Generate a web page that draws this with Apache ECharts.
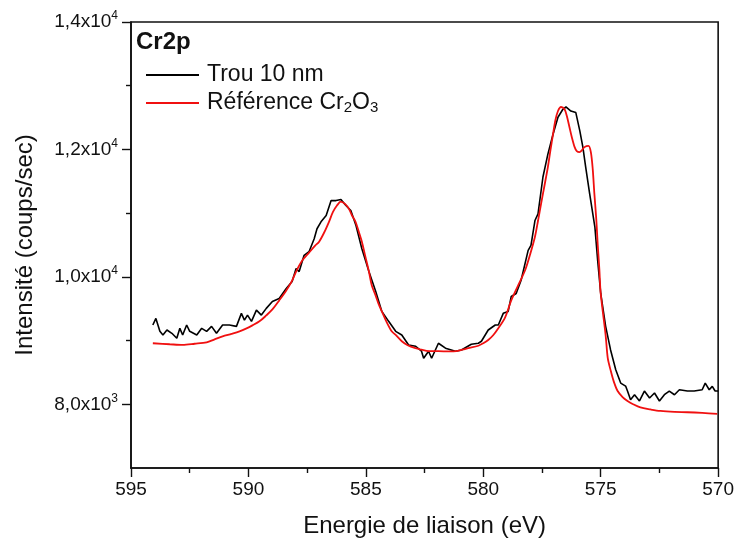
<!DOCTYPE html>
<html>
<head>
<meta charset="utf-8">
<script src="https://cdn.jsdelivr.net/npm/echarts@6/dist/echarts.min.js"></script>
<style>
  html, body { margin: 0; padding: 0; background: #fff; }
  #chart { width: 737px; height: 543px; }
</style>
</head>
<body>
<div id="chart"></div>
<script>
// Cr2p XPS spectra: 10 nm hole vs Cr2O3 reference
const blackEnergy = [
  594.07, 593.94, 593.77, 593.64, 593.47, 593.26, 593.05, 592.92, 592.80, 592.63,
  592.50, 592.20, 591.99, 591.78, 591.57, 591.36, 591.10, 590.81, 590.51, 590.30,
  590.17, 590.04, 589.87, 589.66, 589.45, 589.24, 588.98, 588.69, 588.39, 588.14,
  587.97, 587.84, 587.63, 587.42, 587.20, 587.08, 586.91, 586.69, 586.48, 586.27,
  586.06, 585.85, 585.64, 585.42, 585.17, 584.87, 584.58, 584.32, 584.03, 583.73,
  583.47, 583.18, 582.88, 582.63, 582.54, 582.33, 582.20, 581.91, 581.61, 581.36,
  581.19, 580.93, 580.51, 580.21, 580.08, 579.79, 579.49, 579.36, 579.15, 578.94,
  578.81, 578.60, 578.39, 578.09, 577.97, 577.80, 577.67, 577.46, 577.25, 577.03,
  576.82, 576.61, 576.48, 576.27, 576.06, 575.89, 575.76, 575.64, 575.47, 575.25,
  575.13, 575.00, 574.79, 574.58, 574.36, 574.15, 573.94, 573.86, 573.73, 573.56,
  573.35, 573.14, 572.92, 572.71, 572.50, 572.29, 572.08, 571.86, 571.65, 571.31,
  571.02, 570.68, 570.55, 570.38, 570.25, 570.13, 570.00
];
const blackCounts = [
  9244, 9348, 9145, 9088, 9166, 9114, 9036, 9192, 9088, 9244,
  9145, 9088, 9192, 9145, 9223, 9114, 9244, 9244, 9223, 9427,
  9322, 9400, 9302, 9478, 9400, 9505, 9614, 9661, 9817, 9927,
  10130, 10083, 10338, 10395, 10598, 10755, 10864, 10963, 11197, 11197,
  11213, 11119, 11041, 10806, 10442, 10083, 9770, 9458, 9302, 9145,
  9088, 8931, 8911, 8833, 8723, 8833, 8723, 8958, 8880, 8853,
  8833, 8853, 8942, 8958, 8989, 9166, 9244, 9244, 9427, 9458,
  9692, 9739, 9947, 10416, 10494, 10884, 10989, 11567, 11927, 12239,
  12505, 12630, 12666, 12603, 12578, 12291, 12036, 11723, 11302, 10786,
  10259, 9739, 9223, 8853, 8541, 8333, 8286, 8208, 8072, 8150,
  8052, 8208, 8098, 8177, 8052, 8150, 8208, 8150, 8228, 8208,
  8208, 8228, 8333, 8228, 8281, 8208, 8208
];

const refEnergy = [
  594.07, 593.35, 592.80, 592.29, 591.78, 591.44, 591.10, 590.72, 590.38, 590.08,
  589.83, 589.53, 589.24, 588.98, 588.69, 588.39, 588.14, 587.97, 587.71, 587.42,
  587.16, 586.99, 586.78, 586.57, 586.40, 586.23, 586.07, 585.89, 585.72, 585.59,
  585.44, 585.30, 585.17, 585.02, 584.87, 584.75, 584.59, 584.45, 584.32, 584.11,
  583.90, 583.73, 583.47, 583.22, 582.89, 582.63, 582.33, 581.91, 581.48, 581.14,
  580.93, 580.64, 580.21, 580.00, 579.79, 579.58, 579.36, 579.07, 578.81, 578.52,
  578.22, 578.01, 577.80, 577.67, 577.54, 577.39, 577.25, 577.14, 577.03, 576.93,
  576.82, 576.69, 576.54, 576.44, 576.33, 576.23, 576.11, 576.02, 575.90, 575.81,
  575.69, 575.52, 575.42, 575.34, 575.27, 575.19, 575.13, 575.06, 575.00, 574.79,
  574.70, 574.58, 574.45, 574.28, 574.07, 573.86, 573.60, 573.31, 572.88, 572.46,
  571.86, 571.31, 570.68, 570.04
];
const refCounts = [
  8958, 8942, 8931, 8950, 8973, 9020, 9067, 9106, 9145, 9192,
  9239, 9302, 9395, 9489, 9630, 9786, 9942, 10083, 10255, 10380,
  10489, 10552, 10692, 10864, 11020, 11119, 11181, 11145, 11067, 10963,
  10864, 10708, 10552, 10317, 10083, 9869, 9713, 9567, 9458, 9286,
  9145, 9088, 8989, 8927, 8880, 8856, 8833, 8833, 8830, 8833,
  8853, 8880, 8919, 8958, 9009, 9083, 9192, 9364, 9630, 9864,
  10103, 10348, 10630, 10880, 11145, 11442, 11723, 11989, 12239, 12458,
  12603, 12666, 12630, 12520, 12348, 12192, 12036, 11973, 11958, 11981,
  12036, 12056, 11958, 11692, 11302, 10911, 10520, 10130, 9739, 9083,
  8723, 8536, 8364, 8208, 8114, 8052, 7997, 7950, 7919, 7895,
  7880, 7875, 7864, 7848
];

const yMajorTicks = [8000, 10000, 12000, 14000];
const yMinorTicks = [9000, 11000, 13000];

const FONT = 'Liberation Sans, Arial, sans-serif';
const INK = '#111';

function zip(xs, ys) { return xs.map((x, i) => [x, ys[i]]); }

// "1,2x10^4" style label: mantissa with decimal comma, exponent as superscript
function sciLabel(v) {
  const exp = Math.floor(Math.log10(v));
  const mant = (v / Math.pow(10, exp)).toFixed(1).replace('.', ',');
  return '{m|' + mant + 'x10}{e|' + exp + '}';
}

const chart = echarts.init(document.getElementById('chart'), null, { renderer: 'canvas' });

const yBase = {
  type: 'value',
  min: 7000,
  max: 14000,
  splitLine: { show: false },
  position: 'left'
};

chart.setOption({
  backgroundColor: '#fff',
  animation: false,
  textStyle: { fontFamily: FONT, color: INK },
  grid: {
    left: 131, right: 16, top: 22, bottom: 73,
    show: true, borderColor: INK, borderWidth: 1.6, backgroundColor: 'transparent'
  },
  graphic: [{
    type: 'text', left: 136, top: 30,
    style: { text: 'Cr2p', font: 'bold 24px ' + FONT, fill: INK }
  }],
  legend: {
    orient: 'vertical',
    left: 146, top: 63,
    padding: 0,
    icon: 'rect',
    itemWidth: 53, itemHeight: 2, itemGap: 4,
    textStyle: {
      fontFamily: FONT, fontSize: 23, color: INK, lineHeight: 24,
      padding: [0, 0, 0, 3],
      rich: {
        n: { fontFamily: FONT, fontSize: 23, color: INK, lineHeight: 24 },
        s: { fontFamily: FONT, fontSize: 15, color: INK, lineHeight: 6, verticalAlign: 'bottom' }
      }
    },
    formatter: function (name) {
      if (name === 'Référence Cr2O3') return '{n|Référence Cr}{s|2}{n|O}{s|3}';
      return name;
    },
    data: ['Trou 10 nm', 'Référence Cr2O3']
  },
  xAxis: {
    type: 'value',
    min: 570, max: 595, interval: 5,
    inverse: true,
    name: 'Energie de liaison (eV)',
    nameLocation: 'middle',
    nameGap: 46,
    nameTextStyle: { fontFamily: FONT, fontSize: 24, color: INK },
    axisLine: { lineStyle: { color: INK, width: 1.6 } },
    axisTick: { length: 9, lineStyle: { color: INK, width: 1.4 } },
    minorTick: { show: true, splitNumber: 2, length: 5, lineStyle: { color: INK, width: 1.4 } },
    axisLabel: { fontFamily: FONT, fontSize: 19, color: INK, margin: 12 },
    splitLine: { show: false }
  },
  yAxis: [
    Object.assign({}, yBase, {
      name: 'Intensité (coups/sec)',
      nameLocation: 'middle',
      nameGap: 94,
      nameTextStyle: { fontFamily: FONT, fontSize: 24, color: INK },
      axisLine: { show: true, lineStyle: { color: INK, width: 1.6 } },
      axisTick: { show: true, length: 9, customValues: yMajorTicks, lineStyle: { color: INK, width: 1.4 } },
      axisLabel: {
        show: true, margin: 13, customValues: yMajorTicks,
        formatter: sciLabel,
        rich: {
          m: { fontFamily: FONT, fontSize: 19, color: INK, lineHeight: 24 },
          e: { fontFamily: FONT, fontSize: 12, color: INK, lineHeight: 14, verticalAlign: 'top' }
        }
      }
    }),
    Object.assign({}, yBase, {
      axisLine: { show: false },
      axisTick: { show: true, length: 5, customValues: yMinorTicks, lineStyle: { color: INK, width: 1.4 } },
      axisLabel: { show: false }
    })
  ],
  series: [
    {
      name: 'Trou 10 nm',
      type: 'line',
      yAxisIndex: 0,
      symbol: 'none',
      lineStyle: { color: '#000', width: 1.6 },
      itemStyle: { color: '#000' },
      data: zip(blackEnergy, blackCounts)
    },
    {
      name: 'Référence Cr2O3',
      type: 'line',
      yAxisIndex: 0,
      symbol: 'none',
      smooth: 0.3,
      lineStyle: { color: '#f01010', width: 1.8 },
      itemStyle: { color: '#f01010' },
      data: zip(refEnergy, refCounts)
    }
  ]
});
</script>
</body>
</html>
